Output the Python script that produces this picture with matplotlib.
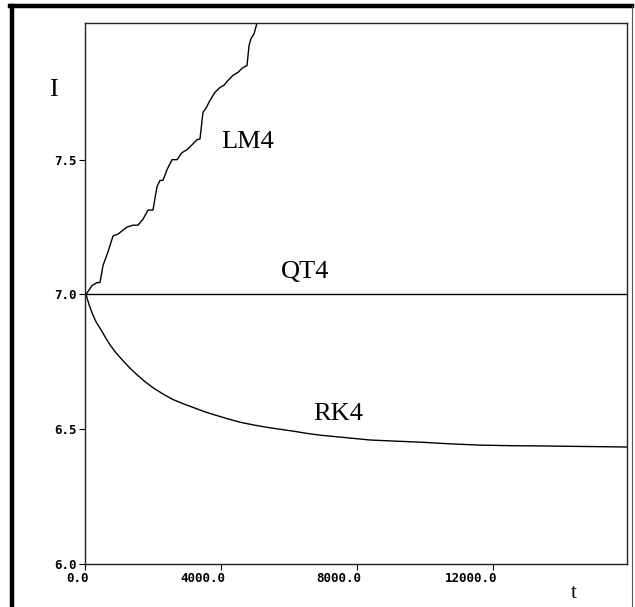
import matplotlib
matplotlib.use('Agg')
import matplotlib.pyplot as plt
import matplotlib.transforms as mtransforms
from matplotlib.lines import Line2D
import numpy as np

# values
lm4_t = [0, 29, 206, 353, 441, 529, 676, 824, 971, 1235, 1412, 1559, 1706, 1853,
         2000, 2118, 2206, 2294, 2412, 2559, 2706, 2853, 3000, 3147, 3294, 3382,
         3470, 3559, 3676, 3824, 3971, 4088, 4206, 4353, 4500, 4647, 4765, 4824,
         4882, 4971, 5059]
lm4_I = [7.0, 7.0, 7.033, 7.044, 7.044, 7.107, 7.158, 7.217, 7.224, 7.25, 7.257,
         7.257, 7.279, 7.313, 7.313, 7.40, 7.423, 7.423, 7.463, 7.50, 7.50, 7.526,
         7.537, 7.555, 7.574, 7.577, 7.676, 7.691, 7.72, 7.75, 7.768, 7.776, 7.794,
         7.813, 7.824, 7.842, 7.849, 7.923, 7.949, 7.967, 8.007]

rk4_t = [0, 29, 120, 235, 330, 441, 590, 735, 920, 1118, 1320, 1529, 1760, 2000,
         2290, 2588, 2880, 3176, 3470, 3765, 4160, 4559, 4950, 5353, 5730, 6118,
         6500, 6912, 7650, 8382, 9100, 9853, 10700, 11618, 12500, 13382, 14650, 15941]
rk4_I = [7.0, 7.0, 6.962, 6.923, 6.897, 6.875, 6.843, 6.813, 6.782, 6.754, 6.727,
         6.702, 6.677, 6.654, 6.631, 6.610, 6.595, 6.581, 6.567, 6.555, 6.540,
         6.526, 6.516, 6.507, 6.500, 6.493, 6.485, 6.478, 6.469, 6.460, 6.456,
         6.452, 6.446, 6.441, 6.439, 6.438, 6.436, 6.434]

qt4_t = [0, 15941]
qt4_I = [7.0, 7.0]

xticks = [0, 4000, 8000, 12000]
xtick_labels = ['0.0', '4000.0', '8000.0', '12000.0']
yticks = [6.0, 6.5, 7.0, 7.5]
ytick_labels = ['6.0', '6.5', '7.0', '7.5']

fig = plt.figure(figsize=(6.35, 6.07), dpi=100)
ax = fig.add_axes([85/635, 1 - 564/607, (627 - 85)/635, (564 - 23)/607])

ax.plot(lm4_t, lm4_I, color='black', lw=1.0)
ax.plot(qt4_t, qt4_I, color='black', lw=1.0)
ax.plot(rk4_t, rk4_I, color='black', lw=1.0)

ax.set_xlim(0, 15941)
ax.set_ylim(6.0, 8.007)

mono = dict(family='DejaVu Sans Mono', size=9, weight='bold')
ax.set_xticks(xticks)
ax.set_xticklabels(xtick_labels, fontdict=mono)
ax.set_yticks(yticks)
ax.set_yticklabels(ytick_labels, fontdict=mono)
ax.tick_params(axis='both', direction='out', length=4, width=0.8, pad=2)
# x labels sit with their last digit under the tick
offset = mtransforms.ScaledTranslation(4/100, 0, fig.dpi_scale_trans)
for lab in ax.get_xticklabels():
    lab.set_horizontalalignment('right')
    lab.set_transform(lab.get_transform() + offset)

for s in ax.spines.values():
    s.set_linewidth(1.0)
    s.set_color('#222222')

serif = dict(family='Liberation Serif', size=19)
ax.text(4794, 7.566, 'LM4', ha='center', va='center', **serif)
ax.text(6470, 7.085, 'QT4', ha='center', va='center', **serif)
ax.text(7450, 6.558, 'RK4', ha='center', va='center', **serif)
fig.text(53/635, 1 - 90/607, 'I', ha='center', va='center', **serif)
fig.text(574/635, 1 - 594/607, 't', ha='center', va='center',
         family='Liberation Serif', size=15)

# scanned page frame
fig.add_artist(Line2D([11.5/635, 11.5/635], [0, 1 - 6/607], color='black', lw=3.2))
fig.add_artist(Line2D([10/635, 632/635], [1 - 6/607, 1 - 6/607], color='black', lw=3.2))
fig.add_artist(Line2D([632/635, 632/635], [0, 1 - 6/607], color='#555555', lw=0.8))

fig.savefig('out.png', dpi=100)
